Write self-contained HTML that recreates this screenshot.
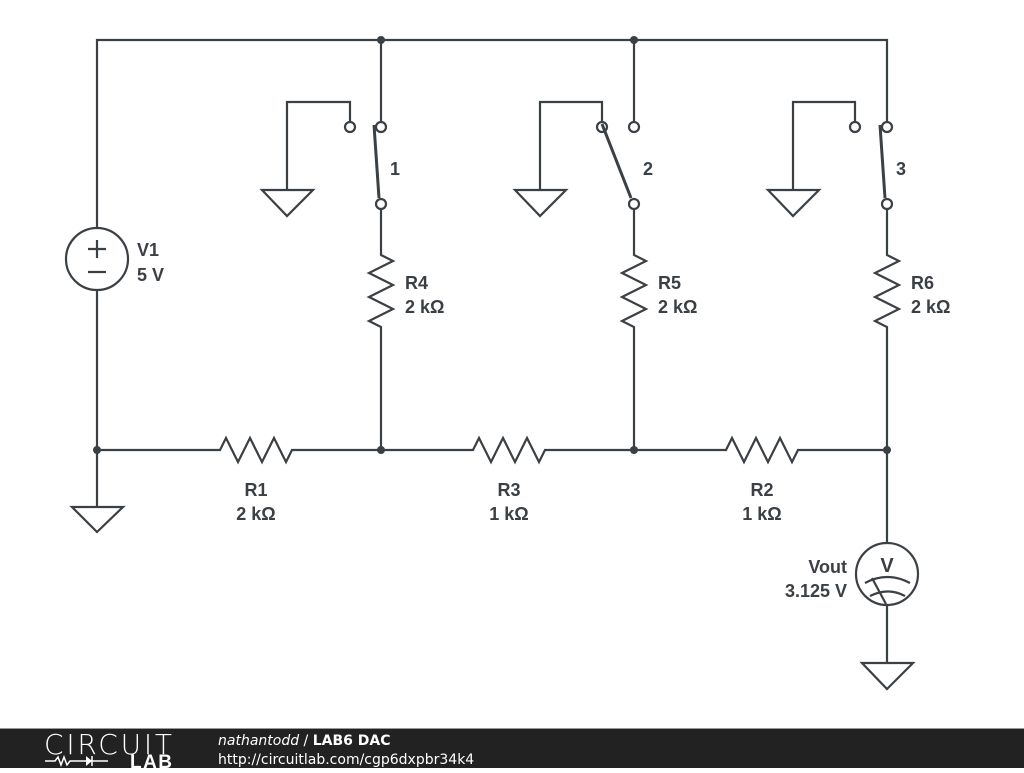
<!DOCTYPE html>
<html><head><meta charset="utf-8"><style>
body{margin:0;width:1024px;height:768px;overflow:hidden;background:#fff;font-family:"Liberation Sans",sans-serif}
.l{font-family:"Liberation Sans",Arial,sans-serif;font-weight:bold;font-size:18px;fill:#3b4045}
</style></head><body>
<svg width="1024" height="768" viewBox="0 0 1024 768" xmlns="http://www.w3.org/2000/svg">
<g stroke="#3b4045" stroke-width="2.2" fill="none">
<path d="M97 228V40H887V121M381 40V121M634 40V121"/>
<path d="M97 290V507"/>
<path d="M97 450H220l6-12 12 24 12-24 12 24 12-24 12 24 6-12H473l6-12 12 24 12-24 12 24 12-24 12 24 6-12H726l6-12 12 24 12-24 12 24 12-24 12 24 6-12H887"/>
<path d="M381 209V255l12 6-24 12 24 12-24 12 24 12-24 12 12 6V450"/>
<path d="M634 209V255l12 6-24 12 24 12-24 12 24 12-24 12 12 6V450"/>
<path d="M887 209V255l12 6-24 12 24 12-24 12 24 12-24 12 12 6V450"/>
<path d="M887 450V543M887 605V663"/>
<path d="M350 122V102H287V190M262 190H313L287 216Z"/>
<path d="M602 122V102H540V190M515 190H566L540 216Z"/>
<path d="M855 122V102H793V190M768 190H819L793 216Z"/>
<path d="M72 507H123L97 532Z"/>
<path d="M862 663H913L887 689Z"/>
<circle cx="350" cy="127" r="5"/><circle cx="381" cy="127" r="5"/><circle cx="381" cy="204" r="5"/>
<circle cx="602" cy="127" r="5"/><circle cx="634" cy="127" r="5"/><circle cx="634" cy="204" r="5"/>
<circle cx="855" cy="127" r="5"/><circle cx="887" cy="127" r="5"/><circle cx="887" cy="204" r="5"/>
<path d="M374 125L379 198M602 124L631 198M880 125L885 198" stroke-width="3"/>
<circle cx="97" cy="259" r="31"/>
<path d="M88 249h18M97 240v18M88 272h18"/>
<circle cx="887" cy="574" r="31"/>
<path d="M865 583q22-12 45 0M870 596q18-9 35 0M872 578l14 26"/>
</g>
<g fill="#3b4045">
<circle cx="381" cy="40" r="4"/><circle cx="634" cy="40" r="4"/>
<circle cx="97" cy="450" r="4"/><circle cx="381" cy="450" r="4"/><circle cx="634" cy="450" r="4"/><circle cx="887" cy="450" r="4"/>
</g>
<g class="l">
<text x="390" y="175">1</text><text x="643" y="175">2</text><text x="896" y="175">3</text>
<text x="137" y="256">V1</text><text x="137" y="281">5 V</text>
<text x="405" y="289">R4</text><text x="405" y="313">2 kΩ</text>
<text x="658" y="289">R5</text><text x="658" y="313">2 kΩ</text>
<text x="911" y="289">R6</text><text x="911" y="313">2 kΩ</text>
<g text-anchor="middle">
<text x="256" y="496">R1</text><text x="256" y="520">2 kΩ</text>
<text x="509" y="496">R3</text><text x="509" y="520">1 kΩ</text>
<text x="762" y="496">R2</text><text x="762" y="520">1 kΩ</text>
<text x="887" y="572" style="font-size:20px">V</text>
</g>
<g text-anchor="end"><text x="847" y="573">Vout</text><text x="847" y="597">3.125 V</text></g>
</g>
<rect x="0" y="729" width="1024" height="39" fill="#222"/>
<rect x="0" y="728" width="1024" height="1" fill="#999"/>
<text x="44" y="754" fill="#fff" style="font-family:'DejaVu Sans',sans-serif;font-size:28px;font-weight:200" textLength="128">CIRCUIT</text>
<path d="M45 761h10l3-4 3 8 3-8 3 8 3-4h10M80 761h22M92 756v10M100 761h8" stroke="#fff" stroke-width="1.5" fill="none"/>
<path d="M86 756l6 5-6 5z" fill="#fff"/>
<text x="130" y="768" fill="#fff" style="font-family:'Liberation Sans',sans-serif;font-size:19px;font-weight:bold" textLength="42">LAB</text>
<text x="218" y="745" fill="#fff" style="font-family:'DejaVu Sans',sans-serif;font-size:14px"><tspan font-style="italic">nathantodd</tspan> / <tspan font-weight="bold">LAB6 DAC</tspan></text>
<text x="218" y="764" fill="#fff" style="font-family:'DejaVu Sans',sans-serif;font-size:14px">http://circuitlab.com/cgp6dxpbr34k4</text>
</svg>
</body></html>
